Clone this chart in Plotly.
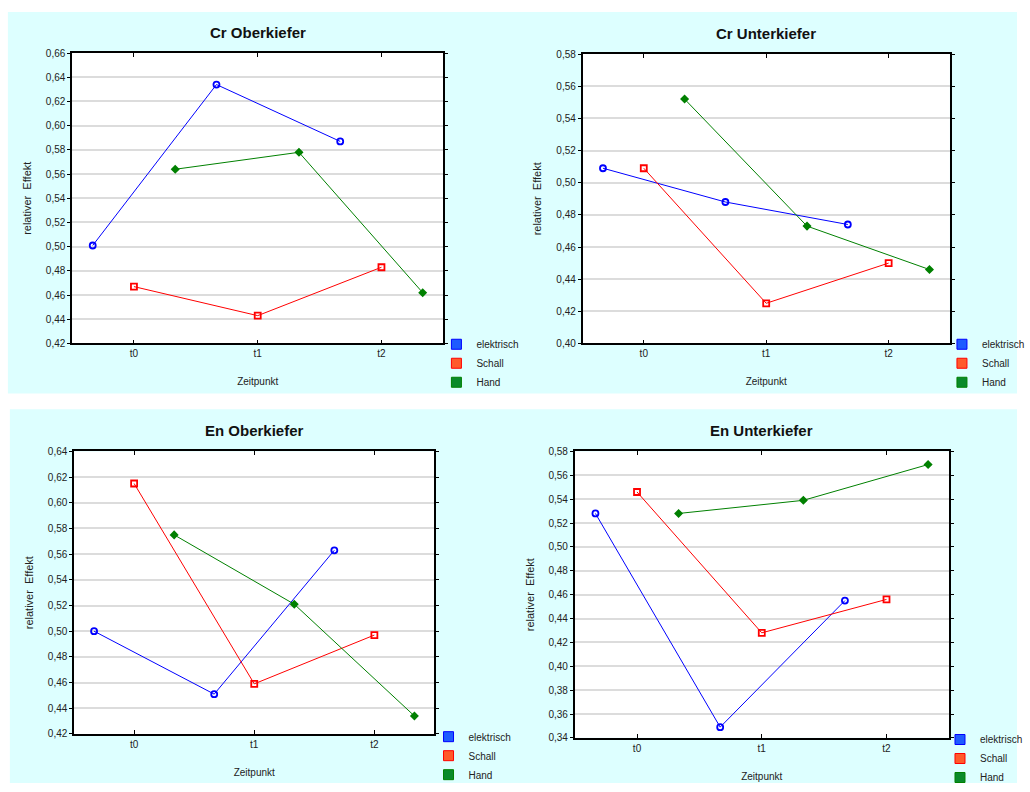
import plotly.graph_objects as go

W, H = 1030, 792

categories = ["t0", "t1", "t2"]
series = ["elektrisch", "Schall", "Hand"]

panel_titles = ["Cr Oberkiefer", "Cr Unterkiefer", "En Oberkiefer", "En Unterkiefer"]

cr_ober_elektrisch = [0.501, 0.634, 0.587]
cr_ober_schall = [0.467, 0.443, 0.483]
cr_ober_hand = [0.564, 0.578, 0.462]

cr_unter_elektrisch = [0.509, 0.488, 0.474]
cr_unter_schall = [0.509, 0.425, 0.450]
cr_unter_hand = [0.552, 0.473, 0.446]

en_ober_elektrisch = [0.500, 0.451, 0.563]
en_ober_schall = [0.615, 0.459, 0.497]
en_ober_hand = [0.575, 0.521, 0.434]

en_unter_elektrisch = [0.528, 0.349, 0.455]
en_unter_schall = [0.546, 0.428, 0.456]
en_unter_hand = [0.528, 0.539, 0.569]

panel_data = [
    [cr_ober_elektrisch, cr_ober_schall, cr_ober_hand],
    [cr_unter_elektrisch, cr_unter_schall, cr_unter_hand],
    [en_ober_elektrisch, en_ober_schall, en_ober_hand],
    [en_unter_elektrisch, en_unter_schall, en_unter_hand],
]
y_ranges = [(0.42, 0.66), (0.40, 0.58), (0.42, 0.64), (0.34, 0.58)]

# styling
colors = ["#0000FF", "#FF0000", "#008000"]
legend_colors = ["#1E5BFF", "#FF5A2A", "#0A8A2A"]
symbols = ["circle-open", "square-open", "diamond"]
msizes = [6, 6, 5]
offsets = [-1 / 3, 0, 1 / 3]

# pixel boxes of the plot areas (left, right, top, bottom)
boxes = [(73, 449, 48, 344), (590, 962, 49, 344), (75, 440, 454, 742), (582, 961, 454, 746)]
legend_pos = [(442, 330), (954, 330), (434, 730), (952, 733)]


def px_x(v):
    return v / W


def px_y(v):
    return 1 - v / H


fig = go.Figure()

for p in range(4):
    ax = "" if p == 0 else str(p + 1)
    xref = "x" + ax
    yref = "y" + ax
    for s in range(3):
        xs = [i + offsets[s] for i in range(len(categories))]
        fig.add_trace(go.Scatter(
            x=xs, y=panel_data[p][s], mode="lines+markers",
            line=dict(color=colors[s], width=1),
            marker=dict(symbol=symbols[s], size=msizes[s], color=colors[s],
                        line=dict(color=colors[s], width=1.8)),
            xaxis=xref, yaxis=yref, showlegend=False, name=series[s],
        ))
        fig.add_trace(go.Scatter(
            x=[None], y=[None], mode="markers",
            marker=dict(symbol="square", size=10, color=legend_colors[s],
                        line=dict(color=colors[s], width=1)),
            xaxis=xref, yaxis=yref, name=series[s],
            legend="legend" + ax, showlegend=True,
        ))

    l, r, t, b = boxes[p]
    fig.layout["xaxis" + ax] = dict(
        domain=[px_x(l), px_x(r)], anchor=yref, range=[-0.5, 2.5],
        tickvals=[0, 1, 2], ticktext=categories,
        ticks="inside", ticklen=4, tickcolor="#000", mirror="ticks",
        showline=True, linecolor="#000", linewidth=1.5, showgrid=False,
        zeroline=False, tickfont=dict(size=10, color="#222"),
        title=dict(text="Zeitpunkt", font=dict(size=10, color="#222"), standoff=20),
    )
    lo, hi = y_ranges[p]
    fig.layout["yaxis" + ax] = dict(
        domain=[px_y(b), px_y(t)], anchor=xref, range=[lo, hi], dtick=0.02,
        tickformat=".2f", ticks="outside", ticklen=3, tickcolor="#000", mirror="ticks",
        showline=True, linecolor="#000", linewidth=1.5,
        showgrid=True, gridcolor="#DCDCDC", gridwidth=2, zeroline=False,
        tickfont=dict(size=10, color="#222"),
        title=dict(text="relativer  Effekt", font=dict(size=11, color="#222"), standoff=12),
    )
    lx, ly = legend_pos[p]
    fig.layout["legend" + ax] = dict(
        x=px_x(lx), y=px_y(ly), xanchor="left", yanchor="top",
        bgcolor="rgba(0,0,0,0)", borderwidth=0, itemwidth=30,
        font=dict(size=10, color="#222"), tracegroupgap=0,
    )
    fig.add_annotation(
        text="<b>" + panel_titles[p] + "</b>", xref="paper", yref="paper",
        x=px_x((l + r) / 2), y=px_y(t - 21), xanchor="center", yanchor="middle",
        showarrow=False, font=dict(size=15, color="#111"),
    )

# panel backgrounds
fig.add_shape(type="rect", xref="paper", yref="paper", x0=px_x(8), x1=1, y0=px_y(395), y1=px_y(6),
              fillcolor="#DDFFFF", line=dict(width=0), layer="below")
fig.add_shape(type="rect", xref="paper", yref="paper", x0=px_x(10), x1=1, y0=0, y1=px_y(411),
              fillcolor="#DDFFFF", line=dict(width=0), layer="below")
for p in range(4):
    l, r, t, b = boxes[p]
    fig.add_shape(type="rect", xref="paper", yref="paper", x0=px_x(l), x1=px_x(r),
                  y0=px_y(b), y1=px_y(t), fillcolor="white", line=dict(width=0), layer="below")

fig.update_layout(
    width=W, height=H, margin=dict(l=0, r=0, t=0, b=0),
    paper_bgcolor="white", plot_bgcolor="rgba(0,0,0,0)",
    separators=",.", font=dict(family="Liberation Sans, Arial, sans-serif"),
)

fig.write_html(
    "out.html",
    config={"displayModeBar": False},
    post_script="document.body.style.margin='0';document.body.style.overflow='hidden';",
)
